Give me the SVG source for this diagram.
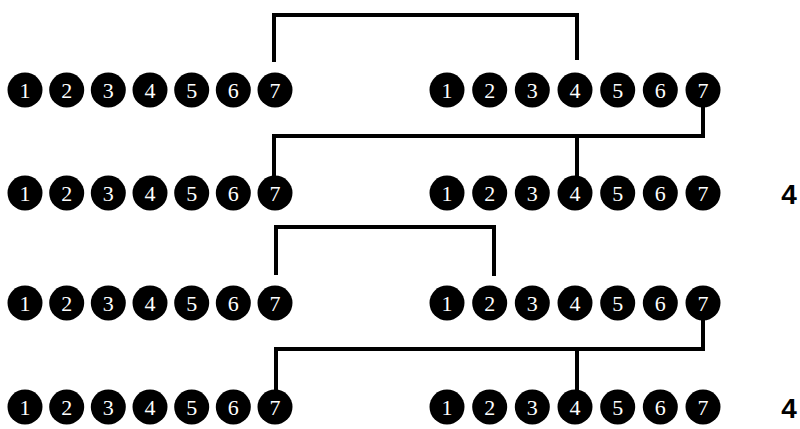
<svg xmlns="http://www.w3.org/2000/svg" width="800" height="429" viewBox="0 0 800 429">
<style>
.b circle{fill:#000}
.b text{fill:#fff;font-family:"Liberation Serif",serif;font-size:22px;text-anchor:middle}
.c path{fill:none;stroke:#000;stroke-width:4;stroke-linejoin:miter}
.lbl{fill:#000;font-family:"Liberation Sans",sans-serif;font-weight:bold;font-size:28px;text-anchor:middle}
</style>
<defs>
<g id="row">
<circle cx="0" cy="0" r="17.5"/><text x="0" y="7.5">1</text>
</g>
</defs>
<rect width="800" height="429" fill="#fff"/>
<g id="connectors" class="c">
<path d="M274 62 V15 H577 V60"/>
<path d="M703 107 V136 H274 V178"/>
<path d="M577 136 V178"/>
<path d="M276 275 V227 H494 V276"/>
<path d="M703 318 V349 H276 V392"/>
<path d="M577 349 V392"/>
</g>
<g id="row1-left" class="b">
<circle cx="25" cy="90" r="17.5"/><text x="25" y="97.5">1</text>
<circle cx="66.7" cy="90" r="17.5"/><text x="66.7" y="97.5">2</text>
<circle cx="108.3" cy="90" r="17.5"/><text x="108.3" y="97.5">3</text>
<circle cx="150" cy="90" r="17.5"/><text x="150" y="97.5">4</text>
<circle cx="191.7" cy="90" r="17.5"/><text x="191.7" y="97.5">5</text>
<circle cx="233.3" cy="90" r="17.5"/><text x="233.3" y="97.5">6</text>
<circle cx="275" cy="90" r="17.5"/><text x="275" y="97.5">7</text>
</g>
<g id="row1-right" class="b">
<circle cx="447" cy="90" r="17.5"/><text x="447" y="97.5">1</text>
<circle cx="489.7" cy="90" r="17.5"/><text x="489.7" y="97.5">2</text>
<circle cx="532.3" cy="90" r="17.5"/><text x="532.3" y="97.5">3</text>
<circle cx="575" cy="90" r="17.5"/><text x="575" y="97.5">4</text>
<circle cx="617.7" cy="90" r="17.5"/><text x="617.7" y="97.5">5</text>
<circle cx="660.3" cy="90" r="17.5"/><text x="660.3" y="97.5">6</text>
<circle cx="703" cy="90" r="17.5"/><text x="703" y="97.5">7</text>
</g>
<g id="row2-left" class="b">
<circle cx="25" cy="193" r="17.5"/><text x="25" y="200.5">1</text>
<circle cx="66.7" cy="193" r="17.5"/><text x="66.7" y="200.5">2</text>
<circle cx="108.3" cy="193" r="17.5"/><text x="108.3" y="200.5">3</text>
<circle cx="150" cy="193" r="17.5"/><text x="150" y="200.5">4</text>
<circle cx="191.7" cy="193" r="17.5"/><text x="191.7" y="200.5">5</text>
<circle cx="233.3" cy="193" r="17.5"/><text x="233.3" y="200.5">6</text>
<circle cx="275" cy="193" r="17.5"/><text x="275" y="200.5">7</text>
</g>
<g id="row2-right" class="b">
<circle cx="447" cy="193" r="17.5"/><text x="447" y="200.5">1</text>
<circle cx="489.7" cy="193" r="17.5"/><text x="489.7" y="200.5">2</text>
<circle cx="532.3" cy="193" r="17.5"/><text x="532.3" y="200.5">3</text>
<circle cx="575" cy="193" r="17.5"/><text x="575" y="200.5">4</text>
<circle cx="617.7" cy="193" r="17.5"/><text x="617.7" y="200.5">5</text>
<circle cx="660.3" cy="193" r="17.5"/><text x="660.3" y="200.5">6</text>
<circle cx="703" cy="193" r="17.5"/><text x="703" y="200.5">7</text>
</g>
<g id="row3-left" class="b">
<circle cx="25" cy="303" r="17.5"/><text x="25" y="310.5">1</text>
<circle cx="66.7" cy="303" r="17.5"/><text x="66.7" y="310.5">2</text>
<circle cx="108.3" cy="303" r="17.5"/><text x="108.3" y="310.5">3</text>
<circle cx="150" cy="303" r="17.5"/><text x="150" y="310.5">4</text>
<circle cx="191.7" cy="303" r="17.5"/><text x="191.7" y="310.5">5</text>
<circle cx="233.3" cy="303" r="17.5"/><text x="233.3" y="310.5">6</text>
<circle cx="275" cy="303" r="17.5"/><text x="275" y="310.5">7</text>
</g>
<g id="row3-right" class="b">
<circle cx="447" cy="303" r="17.5"/><text x="447" y="310.5">1</text>
<circle cx="489.7" cy="303" r="17.5"/><text x="489.7" y="310.5">2</text>
<circle cx="532.3" cy="303" r="17.5"/><text x="532.3" y="310.5">3</text>
<circle cx="575" cy="303" r="17.5"/><text x="575" y="310.5">4</text>
<circle cx="617.7" cy="303" r="17.5"/><text x="617.7" y="310.5">5</text>
<circle cx="660.3" cy="303" r="17.5"/><text x="660.3" y="310.5">6</text>
<circle cx="703" cy="303" r="17.5"/><text x="703" y="310.5">7</text>
</g>
<g id="row4-left" class="b">
<circle cx="25" cy="407" r="17.5"/><text x="25" y="414.5">1</text>
<circle cx="66.7" cy="407" r="17.5"/><text x="66.7" y="414.5">2</text>
<circle cx="108.3" cy="407" r="17.5"/><text x="108.3" y="414.5">3</text>
<circle cx="150" cy="407" r="17.5"/><text x="150" y="414.5">4</text>
<circle cx="191.7" cy="407" r="17.5"/><text x="191.7" y="414.5">5</text>
<circle cx="233.3" cy="407" r="17.5"/><text x="233.3" y="414.5">6</text>
<circle cx="275" cy="407" r="17.5"/><text x="275" y="414.5">7</text>
</g>
<g id="row4-right" class="b">
<circle cx="447" cy="407" r="17.5"/><text x="447" y="414.5">1</text>
<circle cx="489.7" cy="407" r="17.5"/><text x="489.7" y="414.5">2</text>
<circle cx="532.3" cy="407" r="17.5"/><text x="532.3" y="414.5">3</text>
<circle cx="575" cy="407" r="17.5"/><text x="575" y="414.5">4</text>
<circle cx="617.7" cy="407" r="17.5"/><text x="617.7" y="414.5">5</text>
<circle cx="660.3" cy="407" r="17.5"/><text x="660.3" y="414.5">6</text>
<circle cx="703" cy="407" r="17.5"/><text x="703" y="414.5">7</text>
</g>
<g id="label-row2"><text class="lbl" x="789" y="204">4</text></g>
<g id="label-row4"><text class="lbl" x="789" y="418">4</text></g>
</svg>
